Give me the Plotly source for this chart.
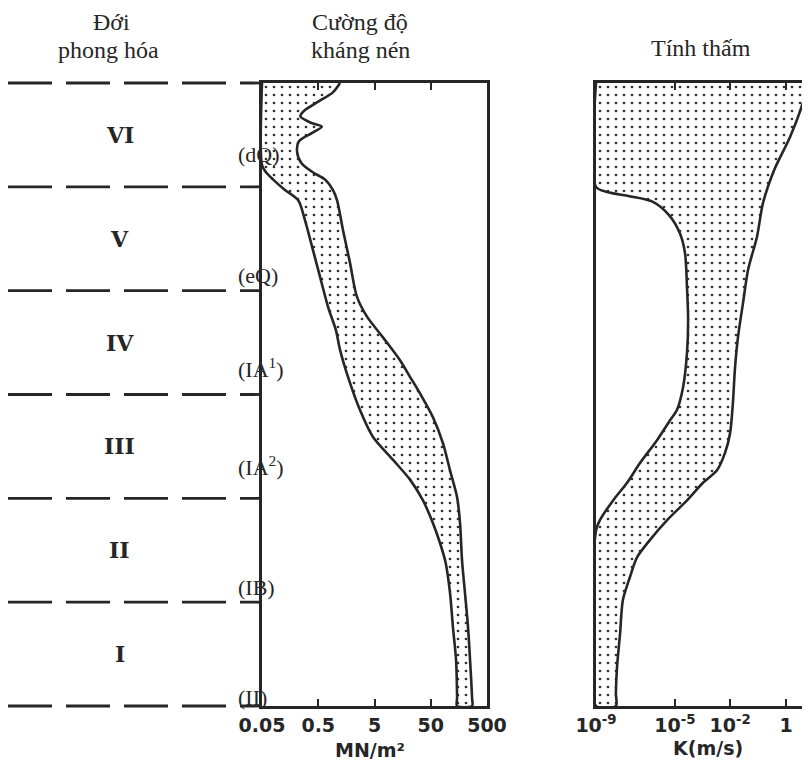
import math
import plotly.graph_objects as go

W, H = 810, 773
OFF = 8                      # default page margin of the browser body
FW, FH = W - OFF, H - OFF    # figure size actually visible

# ---------------- data ----------------
zone_names = ["VI", "V", "IV", "III", "II", "I"]
zone_boundaries = [0, 1, 2, 3, 4, 5, 6]
strat_labels = ["(dQ)", "(eQ)", "(IA<sup>1</sup>)", "(IA<sup>2</sup>)", "(IB)", "(II)"]
strat_depths = [0.69, 1.85, 2.74, 3.69, 4.86, 5.92]

strength_ticks = [0.05, 0.5, 5, 50, 500]
strength_tick_text = ["0.05", "0.5", "5", "50", "500"]

# compressive strength band (MN/m2) - lower boundary
str_low_depth = [0.00, 0.79, 0.86, 0.93, 1.03, 1.13, 1.32, 1.58, 1.87, 2.16, 2.38, 2.57,
                 2.86, 3.15, 3.41, 3.63, 3.82, 4.02, 4.24, 4.43, 4.62, 4.91, 5.24, 5.56, 5.92, 6.00]
str_low_val = [0.05, 0.05, 0.059, 0.079, 0.128, 0.22, 0.29, 0.39, 0.54, 0.75, 1.03, 1.22,
               1.76, 2.76, 4.7, 10.7, 21.4, 36.4, 54.8, 73, 92, 110, 124, 141, 147, 147]
# upper boundary
str_high_depth = [0.00, 0.09, 0.18, 0.26, 0.32, 0.38, 0.42, 0.48, 0.56, 0.66, 0.77, 0.86,
                  0.93, 1.03, 1.13, 1.42, 1.73, 2.06, 2.25, 2.45, 2.67, 2.83, 2.99, 3.22,
                  3.47, 3.73, 3.99, 4.24, 4.60, 4.91, 5.24, 5.56, 5.92, 6.00]
str_high_val = [1.22, 0.91, 0.50, 0.29, 0.24, 0.36, 0.58, 0.39, 0.227, 0.21, 0.25, 0.40,
                0.66, 0.91, 1.08, 1.38, 1.83, 2.44, 3.68, 7.08, 14.2, 21.4, 32.2, 54.8,
                82.6, 110, 147, 166, 180, 203, 230, 250, 271, 271]

# permeability band (schematic log-K scale units)
perm_tick_pos = [0, 2.82, 4.79, 6.79]
perm_tick_text = ["10<sup>-9</sup>", "10<sup>-5</sup>", "10<sup>-2</sup>", "1"]
perm_low_depth = [0.00, 1.00, 1.05, 1.09, 1.14, 1.27, 1.45, 1.64, 1.97, 2.28, 2.60, 2.93,
                  3.15, 3.25, 3.44, 3.66, 3.85, 4.02, 4.21, 4.31, 6.00]
perm_low_val = [0, 0, 0.4, 1.2, 2.0, 2.6, 3.0, 3.18, 3.25, 3.29, 3.25, 3.11,
                2.89, 2.64, 2.18, 1.57, 1.11, 0.61, 0.14, 0, 0]
perm_high_depth = [0.00, 0.19, 0.52, 0.84, 1.16, 1.48, 1.80, 2.12, 2.45, 2.76, 3.08, 3.37,
                   3.56, 3.73, 3.85, 4.02, 4.21, 4.40, 4.57, 4.76, 4.98, 5.30, 5.63, 5.88, 6.00]
perm_high_val = [7.57, 7.39, 6.93, 6.36, 5.96, 5.75, 5.43, 5.25, 5.07, 4.96, 4.89, 4.79,
                 4.61, 4.32, 3.82, 3.25, 2.54, 1.93, 1.46, 1.21, 0.96, 0.86, 0.75, 0.71, 0.71]

# ---------------- layout helpers ----------------
def px(x):
    return (x - OFF) / FW

def py(y):
    return 1 - (y - OFF) / FH

INK = "#262626"
SERIF = "Liberation Serif"
SANS = "DejaVu Sans"

y_top, y_bot = 83, 706
depth_max = zone_boundaries[-1]

def depth_to_paper(d):
    # depth axis runs from y_top (d=0) to y_bot (d=depth_max)
    return py(y_top + d / depth_max * (y_bot - y_top))

fig = go.Figure()

stipple = dict(shape=".", fgcolor="#303030", bgcolor="white", size=8, solidity=0.09)

fig.add_trace(go.Scatter(
    x=str_low_val + str_high_val[::-1],
    y=str_low_depth + str_high_depth[::-1],
    mode="lines", fill="toself", fillcolor="white", fillpattern=stipple,
    line=dict(color=INK, width=2.6, shape="spline", smoothing=0.8),
    xaxis="x", yaxis="y", showlegend=False, hoverinfo="skip"))

fig.add_trace(go.Scatter(
    x=perm_low_val + perm_high_val[::-1],
    y=perm_low_depth + perm_high_depth[::-1],
    mode="lines", fill="toself", fillcolor="white", fillpattern=stipple,
    line=dict(color=INK, width=2.6, shape="spline", smoothing=0.8),
    xaxis="x2", yaxis="y2", showlegend=False, hoverinfo="skip"))

common_y = dict(range=[depth_max, 0], showgrid=False, zeroline=False, showticklabels=False,
                ticks="", showline=True, linecolor=INK, linewidth=3,
                domain=[py(y_bot), py(y_top)], automargin=False)

tickfont = dict(family=SANS, size=19, color=INK, weight="bold")

fig.update_layout(
    width=FW, height=FH,
    margin=dict(l=0, r=0, t=0, b=0),
    paper_bgcolor="white", plot_bgcolor="white",
    template="none",
    xaxis=dict(type="log", range=[math.log10(0.05), math.log10(500)],
               domain=[px(262), px(487)], tickvals=strength_ticks,
               ticktext=strength_tick_text, ticks="inside", ticklen=7, tickwidth=2,
               tickcolor=INK, showline=True, linecolor=INK, linewidth=3,
               mirror="ticks", showgrid=False, zeroline=False, tickfont=tickfont,
               anchor="y", automargin=False),
    yaxis=dict(**common_y, mirror=True, anchor="x"),
    xaxis2=dict(range=[0, (W - 596) / 28.0], domain=[px(596), 1.0],
                tickvals=perm_tick_pos, ticktext=perm_tick_text, ticks="inside",
                ticklen=7, tickwidth=2, tickcolor=INK, showline=True, linecolor=INK,
                linewidth=3, mirror="ticks", showgrid=False, zeroline=False,
                tickfont=tickfont, anchor="y2", automargin=False),
    yaxis2=dict(**common_y, mirror=False, anchor="x2"),
)

shapes = []
for b in zone_boundaries:
    yp = depth_to_paper(b)
    shapes.append(dict(type="line", xref="paper", yref="paper", x0=px(8), x1=px(262),
                       y0=yp, y1=yp, line=dict(color=INK, width=2.8, dash="44px,14px")))
fig.update_layout(shapes=shapes)

ann = []
for i, name in enumerate(zone_names):
    ann.append(dict(x=px(120), y=i + 0.5, xref="paper", yref="y", text=name,
                    showarrow=False, xanchor="center", yanchor="middle",
                    font=dict(family="DejaVu Serif", size=22, color=INK, weight="bold")))
for lab, d in zip(strat_labels, strat_depths):
    ann.append(dict(x=px(236), y=d, xref="paper", yref="y", text=lab,
                    showarrow=False, xanchor="left", yanchor="middle",
                    font=dict(family=SERIF, size=22, color=INK)))

titles = [("Đới", 111, 22), ("phong hóa", 108, 50),
          ("Cường độ", 360, 22), ("kháng nén", 360, 50),
          ("Tính thấm", 701, 48)]
for t, x, y in titles:
    ann.append(dict(x=px(x), y=py(y), xref="paper", yref="paper", text=t,
                    showarrow=False, xanchor="center", yanchor="middle",
                    font=dict(family=SERIF, size=24, color=INK)))

ann.append(dict(x=px(370), y=py(750), xref="paper", yref="paper", text="MN/m²",
                showarrow=False, xanchor="center", yanchor="middle",
                font=dict(family=SANS, size=19, color=INK, weight="bold")))
ann.append(dict(x=px(708), y=py(748), xref="paper", yref="paper", text="K(m/s)",
                showarrow=False, xanchor="center", yanchor="middle",
                font=dict(family=SANS, size=19, color=INK, weight="bold")))
fig.update_layout(annotations=ann)

fig.write_html("out.html")
